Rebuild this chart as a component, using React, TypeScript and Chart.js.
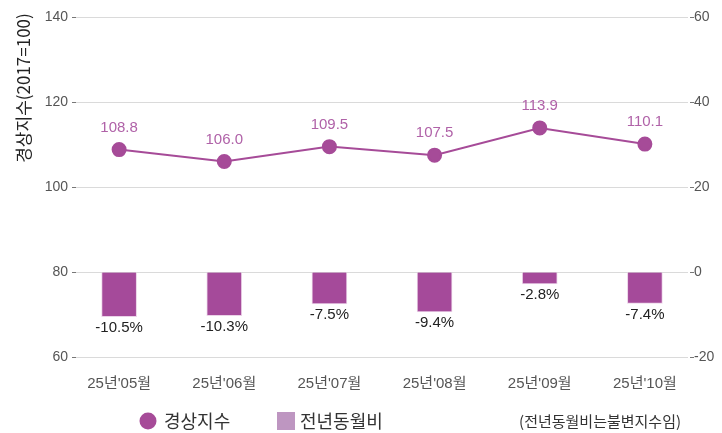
import React, { useEffect, useRef } from 'react';
import { Chart, registerables } from 'chart.js';

Chart.register(...registerables);

const categories = ["25년'05월", "25년'06월", "25년'07월", "25년'08월", "25년'09월", "25년'10월"];
const indexValues = [108.8, 106.0, 109.5, 107.5, 113.9, 110.1];
const yoyValues = [-10.5, -10.3, -7.5, -9.4, -2.8, -7.4];
const leftAxisRange = [60, 140];
const rightAxisRange = [-20, 60];
const axisStep = 20;

const seriesNames = ['경상지수', '전년동월비'];
const yTitle = '경상지수(2017=100)';
const noteText = '(전년동월비는불변지수임)';

const FONT = "'Liberation Sans', 'Noto Sans CJK KR', sans-serif";
const KFONT = "'Noto Sans CJK KR', 'Liberation Sans', sans-serif";
const LINE_COLOR = '#A64B98';
const BAR_COLOR = '#A54A9A';
const LEGEND_BAR = '#BE96C1';
const LINE_LABEL = '#B062A8';
const TEXT = '#555555';

export default function App() {
  const ref = useRef<HTMLCanvasElement>(null);

  useEffect(() => {
    document.body.style.margin = '0';
    const canvas = ref.current!;

    const labelPlugin = {
      id: 'valueLabels',
      afterDatasetsDraw(chart: any) {
        const c = chart.ctx;
        c.save();
        c.textAlign = 'center';
        c.textBaseline = 'middle';
        const lineMeta = chart.getDatasetMeta(0);
        c.font = `15px ${FONT}`;
        c.fillStyle = LINE_LABEL;
        lineMeta.data.forEach((el: any, i: number) => {
          c.fillText(indexValues[i].toFixed(1), el.x, el.y - 22);
        });
        const barMeta = chart.getDatasetMeta(1);
        c.fillStyle = '#222222';
        barMeta.data.forEach((el: any, i: number) => {
          const bottom = Math.max(el.y, el.base);
          c.fillText(yoyValues[i].toFixed(1) + '%', el.x, bottom + 11);
        });
        c.restore();
      },
    };

    const decorPlugin = {
      id: 'decor',
      afterDraw(chart: any) {
        const c = chart.ctx;
        const area = chart.chartArea;
        c.save();
        // y-axis title
        c.translate(24, area.top + 71);
        c.rotate(-Math.PI / 2);
        c.textAlign = 'center';
        c.textBaseline = 'middle';
        c.fillStyle = '#222222';
        c.font = `17px ${KFONT}`;
        c.fillText(yTitle, 0, 0);
        c.restore();

        // legend
        c.save();
        const ly = 421;
        c.textBaseline = 'middle';
        c.textAlign = 'left';
        c.fillStyle = LINE_COLOR;
        c.beginPath();
        c.arc(148, ly, 8.5, 0, Math.PI * 2);
        c.fill();
        c.fillStyle = '#333333';
        c.font = `18px ${KFONT}`;
        c.fillText(seriesNames[0], 164, ly);
        c.fillStyle = LEGEND_BAR;
        c.fillRect(277, ly - 9, 18, 18);
        c.fillStyle = '#333333';
        c.fillText(seriesNames[1], 300, ly);
        c.font = `15px ${KFONT}`;
        c.textAlign = 'right';
        c.fillText(noteText, 681, ly);
        c.restore();
      },
    };

    const tickGrid = {
      color: '#DADADA',
      lineWidth: 1,
      tickLength: 6,
      tickColor: '#777777',
      tickBorderDash: [4, 2],
      tickBorderDashOffset: 4,
    };

    const chart = new Chart(canvas, {
      type: 'bar',
      data: {
        datasets: [
          {
            type: 'line',
            label: seriesNames[0],
            data: indexValues.map((v, i) => ({ x: i, y: v })),
            yAxisID: 'y',
            borderColor: LINE_COLOR,
            backgroundColor: LINE_COLOR,
            pointBackgroundColor: LINE_COLOR,
            pointBorderColor: LINE_COLOR,
            pointRadius: 6.5,
            borderWidth: 2,
            order: 0,
          } as any,
          {
            type: 'bar',
            label: seriesNames[1],
            data: yoyValues.map((v, i) => ({ x: i, y: v })),
            yAxisID: 'y1',
            backgroundColor: BAR_COLOR,
            borderColor: '#EBD3E8',
            borderWidth: 1,
            barThickness: 35,
            order: 1,
          } as any,
        ],
      },
      options: {
        animation: false,
        responsive: false,
        layout: { padding: { top: 17, left: 0, right: 0, bottom: 0 } },
        plugins: {
          legend: { display: false },
          tooltip: { enabled: false },
        },
        scales: {
          x: {
            type: 'linear',
            offset: false,
            min: -0.41,
            max: categories.length - 1 + 0.41,
            afterBuildTicks: (s: any) => {
              s.ticks = categories.map((_, i) => ({ value: i }));
            },
            afterFit: (s: any) => {
              s.height = 76;
            },
            ticks: {
              callback: (v: any) => categories[Math.round(v)] ?? '',
              color: TEXT,
              font: { size: 15, family: FONT },
              padding: 18,
              maxRotation: 0,
              autoSkip: false,
            },
            grid: { display: false, drawTicks: false, offset: false },
            border: { display: false },
          },
          y: {
            position: 'left',
            min: leftAxisRange[0],
            max: leftAxisRange[1],
            afterFit: (s: any) => {
              s.width = 76;
            },
            ticks: {
              stepSize: axisStep,
              color: TEXT,
              font: { size: 14, family: FONT },
              padding: 2,
            },
            grid: tickGrid,
            border: { display: false },
          },
          y1: {
            position: 'right',
            min: rightAxisRange[0],
            max: rightAxisRange[1],
            afterFit: (s: any) => {
              s.width = 34;
            },
            ticks: {
              stepSize: axisStep,
              color: TEXT,
              font: { size: 14, family: FONT },
              padding: 0,
            },
            grid: { ...tickGrid, drawOnChartArea: false },
            border: { display: false },
          },
        },
      } as any,
      plugins: [labelPlugin, decorPlugin],
    });

    return () => chart.destroy();
  }, []);

  return <canvas ref={ref} width={722} height={433} style={{ display: 'block' }} />;
}
